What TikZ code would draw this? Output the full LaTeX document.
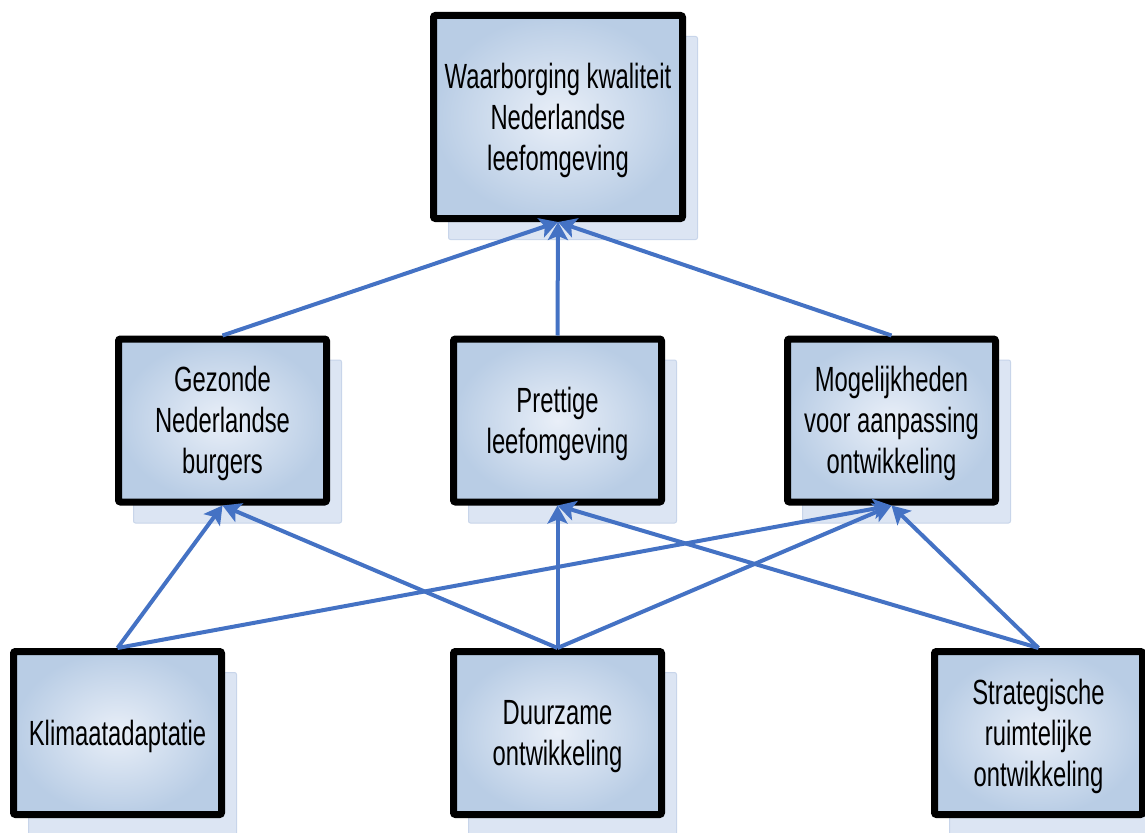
\documentclass[tikz,border=0pt]{standalone}
\usepackage{fontspec}
\setmainfont{Liberation Sans}
\usetikzlibrary{arrows.meta,shadows}
\definecolor{boxfill}{HTML}{B9CDE5}
\definecolor{boxglow}{HTML}{E9EFF8}
\definecolor{shadowfill}{HTML}{DCE5F3}
\definecolor{shadowline}{HTML}{C8D5EA}
\definecolor{linkblue}{HTML}{4472C4}
% box text: narrowed Arial-like lines, set a little below the box centre
\newcommand\boxlines[1]{\raisebox{-4pt}[\height][\depth]{\scalebox{0.68}[1]{\fontsize{35}{41}\selectfont\begin{tabular}{@{}c@{}}#1\end{tabular}}}}
\tikzset{
  goalbox/.style={rectangle, draw=black, line width=7pt, rounded corners=2pt,
    inner color=boxglow, outer color=boxfill,
    general shadow={shadow xshift=15pt, shadow yshift=-21pt, fill=shadowfill, draw=shadowline, line width=1pt},
    inner sep=0pt},
  bigbox/.style={goalbox, minimum width=249pt, minimum height=203pt},
  smallbox/.style={goalbox, minimum width=208pt, minimum height=163pt},
  link/.style={draw=linkblue, line width=4pt, -{Stealth[length=18pt, width=20pt, inset=4pt]}}
}
\begin{document}
\begin{tikzpicture}[x=1pt, y=-1pt]
\useasboundingbox (0,0) rectangle (1145,832);

% top level
\node[bigbox] (waar) at (558,117) {\boxlines{Waarborging kwaliteit\\Nederlandse\\leefomgeving}};

% middle level
\node[smallbox] (gez) at (222.5,420.5) {\boxlines{Gezonde\\Nederlandse\\burgers}};
\node[smallbox] (pret) at (557.5,420.5) {\boxlines{Prettige\\leefomgeving}};
\node[smallbox] (mog) at (891.5,420.5) {\boxlines{Mogelijkheden\\voor aanpassing\\ontwikkeling}};

% bottom level
\node[smallbox] (kli) at (117.5,733) {\boxlines{Klimaatadaptatie}};
\node[smallbox] (duu) at (557.5,733) {\boxlines{Duurzame\\ontwikkeling}};
\node[smallbox] (str) at (1038.5,733) {\boxlines{Strategische\\ruimtelijke\\ontwikkeling}};

% links between levels
\draw[link] (gez.north) -- (waar.south);
\draw[link] (pret.north) -- (waar.south);
\draw[link] (mog.north) -- (waar.south);

\draw[link] (kli.north) -- (gez.south);
\draw[link] (kli.north) -- (mog.south);
\draw[link] (duu.north) -- (gez.south);
\draw[link] (duu.north) -- (pret.south);
\draw[link] (duu.north) -- (mog.south);
\draw[link] (str.north) -- (pret.south);
\draw[link] (str.north) -- (mog.south);
\end{tikzpicture}
\end{document}
